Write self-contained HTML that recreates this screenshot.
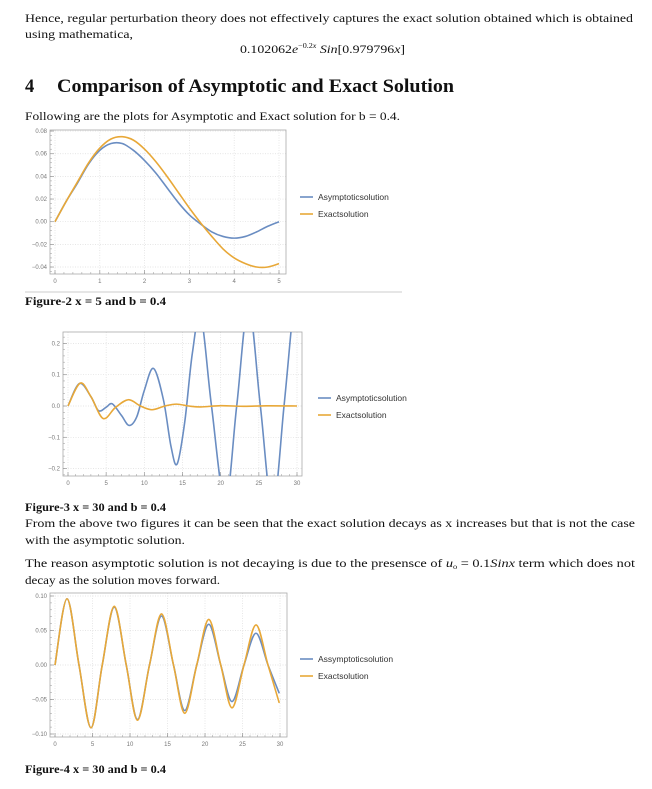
<!DOCTYPE html>
<html><head><meta charset="utf-8"><style>
html,body{margin:0;padding:0;background:#fff;}
svg{display:block;}
.t{font-family:"Liberation Serif",serif;font-size:12px;fill:#111;}
.tk{font-family:"Liberation Sans",sans-serif;font-size:6px;fill:#777;}
.lg{font-family:"Liberation Sans",sans-serif;font-size:8.5px;fill:#333;}
</style></head><body>
<svg id="page" width="652" height="789" viewBox="0 0 652 789">
<text class="t" x="25" y="22" textLength="608" lengthAdjust="spacingAndGlyphs">Hence, regular perturbation theory does not effectively captures the exact solution obtained which is obtained</text>
<text class="t" x="25" y="38" textLength="108" lengthAdjust="spacingAndGlyphs">using mathematica,</text>
<text class="t" x="240" y="53" textLength="165" lengthAdjust="spacingAndGlyphs">0.102062<tspan font-style="italic">e</tspan><tspan font-size="7" dy="-5">−0.2<tspan font-style="italic">x</tspan></tspan><tspan dy="5" font-style="italic"> Sin</tspan>[0.979796<tspan font-style="italic">x</tspan>]</text>
<text x="25" y="92" font-family="Liberation Serif,serif" font-size="18.5" font-weight="bold" fill="#111">4</text>
<text x="57" y="92" font-family="Liberation Serif,serif" font-size="18.5" font-weight="bold" fill="#111" textLength="397" lengthAdjust="spacingAndGlyphs">Comparison of Asymptotic and Exact Solution</text>
<text class="t" x="25" y="120" textLength="375" lengthAdjust="spacingAndGlyphs">Following are the plots for Asymptotic and Exact solution for b = 0.4.</text>
<line x1="25" y1="292" x2="402" y2="292" stroke="#ccc" stroke-width="1"/>
<text class="t" x="25" y="305" font-weight="bold" textLength="141" lengthAdjust="spacingAndGlyphs">Figure-2 x = 5 and b = 0.4</text>
<text class="t" x="25" y="511" font-weight="bold" textLength="141" lengthAdjust="spacingAndGlyphs">Figure-3 x = 30 and b = 0.4</text>
<text class="t" x="25" y="527" textLength="610" lengthAdjust="spacingAndGlyphs">From the above two figures it can be seen that the exact solution decays as x increases but that is not the case</text>
<text class="t" x="25" y="544" textLength="160" lengthAdjust="spacingAndGlyphs">with the asymptotic solution.</text>
<text class="t" x="25" y="567" textLength="610" lengthAdjust="spacingAndGlyphs">The reason asymptotic solution is not decaying is due to the presensce of <tspan font-style="italic">u</tspan><tspan font-size="7" dy="2">o</tspan><tspan dy="-2"> = 0.1</tspan><tspan font-style="italic">Sinx</tspan> term which does not</text>
<text class="t" x="25" y="584" textLength="195" lengthAdjust="spacingAndGlyphs">decay as the solution moves forward.</text>
<text class="t" x="25" y="773" font-weight="bold" textLength="141" lengthAdjust="spacingAndGlyphs">Figure-4 x = 30 and b = 0.4</text>
<g id="charts"></g>
</svg>
<script>
// Chart 1 (x 0..5)
const c1X = [0,0.25,0.5,0.75,1,1.25,1.5,1.75,2,2.25,2.5,2.75,3,3.25,3.5,3.75,4,4.25,4.5,4.75,5];
const c1Asym = [0,0.018,0.034,0.051,0.063,0.069,0.069,0.063,0.054,0.043,0.030,0.017,0.006,-0.002,-0.009,-0.013,-0.0145,-0.013,-0.009,-0.004,0];
const c1Exact = [0,0.018,0.035,0.052,0.065,0.073,0.075,0.072,0.064,0.053,0.040,0.026,0.012,-0.001,-0.013,-0.024,-0.032,-0.037,-0.040,-0.040,-0.037];
const c1XTicks = [0,1,2,3,4,5];
const c1YTicks = [-0.04,-0.02,0,0.02,0.04,0.06,0.08];
const c1YLabels = ["−0.04","−0.02","0.00","0.02","0.04","0.06","0.08"];
// Chart 2 (x 0..30)
const c2AsymX = [0,1.5,3,4,5,5.8,7,8,9,10,11.2,12.5,13.5,14.3,15.3,16.3,17.4,18.8,20.6,22.1,23.65,25.2,26.8,28.3,29.6,30];
const c2Asym = [0,0.072,0.03,-0.015,-0.004,0.007,-0.03,-0.062,-0.035,0.05,0.12,0.02,-0.13,-0.185,-0.05,0.17,0.29,0,-0.31,0,0.32,0,-0.33,0,0.33,0.31];
const c2ExactX = [0,1.6,3,4.6,6.2,7.9,9.5,11,12.7,14.2,15.8,17.4,20,23,26,30];
const c2Exact = [0,0.073,0.03,-0.04,-0.005,0.02,0,-0.012,0,0.006,0,-0.003,0.001,-0.001,0.0005,0];
const c2XTicks = [0,5,10,15,20,25,30];
const c2YTicks = [-0.2,-0.1,0,0.1,0.2];
const c2YLabels = ["−0.2","−0.1","0.0","0.1","0.2"];
// Chart 3 (x 0..30)
const c3X = [0,1.6,3.2,4.8,6.3,7.9,9.5,11,12.6,14.2,15.8,17.3,18.9,20.5,22.1,23.6,25.2,26.8,28.4,29.9];
const c3Asym = [0,0.096,0,-0.091,0,0.084,0,-0.079,0,0.071,0,-0.066,0,0.059,0,-0.053,0,0.046,0,-0.041];
const c3Exact = [0,0.096,0,-0.091,0,0.085,0,-0.080,0,0.074,0,-0.070,0,0.066,0,-0.062,0,0.058,0,-0.055];
const c3XTicks = [0,5,10,15,20,25,30];
const c3YTicks = [-0.1,-0.05,0,0.05,0.1];
const c3YLabels = ["−0.10","−0.05","0.00","0.05","0.10"];

const NS = "http://www.w3.org/2000/svg";
const root = document.getElementById('charts');
function mk(tag, attrs, parent){const e=document.createElementNS(NS,tag);for(const k in attrs)e.setAttribute(k,attrs[k]);parent.appendChild(e);return e;}
function spline(pts){
  let d="M"+pts[0][0].toFixed(2)+","+pts[0][1].toFixed(2);
  for(let i=0;i<pts.length-1;i++){
    const p0=pts[Math.max(0,i-1)],p1=pts[i],p2=pts[i+1],p3=pts[Math.min(pts.length-1,i+2)];
    const c1x=p1[0]+(p2[0]-p0[0])/6,c1y=p1[1]+(p2[1]-p0[1])/6;
    const c2x=p2[0]-(p3[0]-p1[0])/6,c2y=p2[1]-(p3[1]-p1[1])/6;
    d+=" C"+c1x.toFixed(2)+","+c1y.toFixed(2)+" "+c2x.toFixed(2)+","+c2y.toFixed(2)+" "+p2[0].toFixed(2)+","+p2[1].toFixed(2);
  }
  return d;
}
function chart(cfg){
  const g=mk('g',{},root);
  
  
  const sx=v=>cfg.x0+(v-cfg.xmin)/(cfg.xmax-cfg.xmin)*(cfg.x1-cfg.x0);
  const sy=v=>cfg.yz-v*cfg.ys;
  const F=cfg.frame;
  const clipId=cfg.name+'-clip';
  const cp=mk('clipPath',{id:clipId},g);
  mk('rect',{x:F[0],y:F[1],width:F[2]-F[0],height:F[3]-F[1]},cp);
  cfg.xt.forEach(v=>{const l=mk('line',{x1:sx(v),x2:sx(v),y1:F[1],y2:F[3],stroke:'#ddd','stroke-width':0.7,'stroke-dasharray':'1,1.5'},g);
    
    });
  cfg.yt.forEach(v=>{const l=mk('line',{x1:F[0],x2:F[2],y1:sy(v),y2:sy(v),stroke:'#ddd','stroke-width':0.7,'stroke-dasharray':'1,1.5'},g);
    
    });
  const fr=mk('rect',{x:F[0],y:F[1],width:F[2]-F[0],height:F[3]-F[1],fill:'none',stroke:'#aaa','stroke-width':0.8},g);
  
  
  cfg.xt.forEach(v=>{
    mk('line',{x1:sx(v),x2:sx(v),y1:F[3],y2:F[3]-4,stroke:'#999','stroke-width':0.7},g);
    const t=mk('text',{x:sx(v),y:F[3]+9,'text-anchor':'middle',class:'tk'},g);t.textContent=v;
    
    
  });
  const step=(cfg.xt[1]-cfg.xt[0])/5;
  for(let v=cfg.xmin;v<=cfg.xmax+1e-9;v+=step){const x=sx(v);if(x>F[0]&&x<F[2])mk('line',{x1:x,x2:x,y1:F[3],y2:F[3]-2,stroke:'#999','stroke-width':0.5},g);}
  cfg.yt.forEach((v,i)=>{
    mk('line',{x1:F[0],x2:F[0]+4,y1:sy(v),y2:sy(v),stroke:'#999','stroke-width':0.7},g);
    const t=mk('text',{x:F[0]-3,y:sy(v)+2,'text-anchor':'end',class:'tk'},g);t.textContent=cfg.yl[i];
    
    
  });
  const ystep=(cfg.yt[1]-cfg.yt[0])/5;
  for(let v=cfg.yt[0]-ystep*5;v<=cfg.yt[cfg.yt.length-1]+ystep*5;v+=ystep){const y=sy(v);if(y>F[1]&&y<F[3])mk('line',{x1:F[0],x2:F[0]+2,y1:y,y2:y,stroke:'#999','stroke-width':0.5},g);}
  cfg.series.forEach(s=>{
    const pts=s.x.map((xv,i)=>[sx(xv),sy(s.y[i])]);
    const p=mk('path',{d:spline(pts),fill:'none',stroke:s.color,'stroke-width':1.6,'clip-path':'url(#'+clipId+')'},g);
    
    
  });
  cfg.series.forEach((s,i)=>{
    const y=cfg.leg[1]+i*17;
    mk('line',{x1:cfg.leg[0],x2:cfg.leg[0]+13,y1:y,y2:y,stroke:s.color,'stroke-width':1.6},g);
    const t=mk('text',{x:cfg.leg[0]+18,y:y+3,class:'lg'},g);t.textContent=s.label;
    
    
  });
}
const BLUE='#6a8dc2', ORANGE='#e8a838';
chart({name:'figure-2-chart',xmin:0,xmax:5,x0:55,x1:279,yz:221.7,ys:1133,frame:[50,130,286,274],
  xt:c1XTicks,yt:c1YTicks,yl:c1YLabels,leg:[300,197],
  series:[{key:'asymptotic',label:'Asymptoticsolution',x:c1X,y:c1Asym,color:BLUE},{key:'exact',label:'Exactsolution',x:c1X,y:c1Exact,color:ORANGE}]});
chart({name:'figure-3-chart',xmin:0,xmax:30,x0:68,x1:297,yz:406,ys:313,frame:[63,332,302,476],
  xt:c2XTicks,yt:c2YTicks,yl:c2YLabels,leg:[318,398],
  series:[{key:'asymptotic',label:'Asymptoticsolution',x:c2AsymX,y:c2Asym,color:BLUE},{key:'exact',label:'Exactsolution',x:c2ExactX,y:c2Exact,color:ORANGE}]});
chart({name:'figure-4-chart',xmin:0,xmax:30,x0:55,x1:280,yz:665,ys:690,frame:[50,593,287,737],
  xt:c3XTicks,yt:c3YTicks,yl:c3YLabels,leg:[300,659],
  series:[{key:'asymptotic',label:'Assymptoticsolution',x:c3X,y:c3Asym,color:BLUE},{key:'exact',label:'Exactsolution',x:c3X,y:c3Exact,color:ORANGE}]});
</script>
</body></html>
